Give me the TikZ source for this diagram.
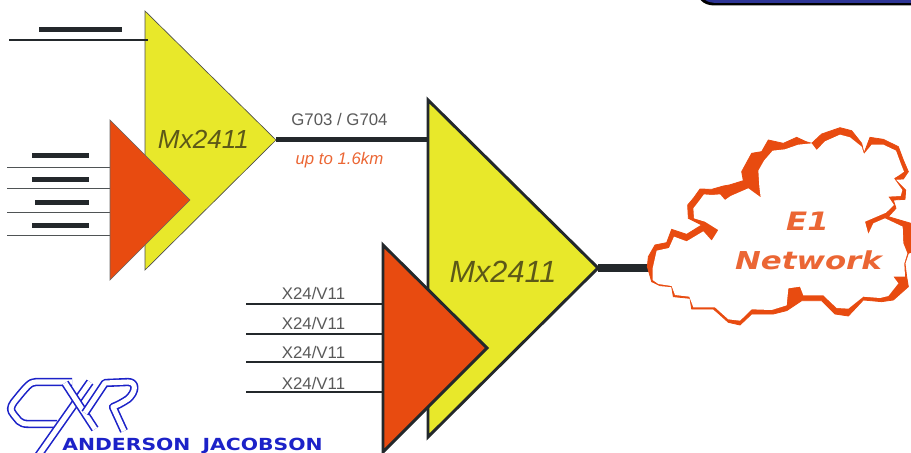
\documentclass[tikz,border=0pt]{standalone}
\usepackage{fontspec}
\setmainfont{Liberation Sans}
\newfontfamily\logofont{DejaVu Sans}
\definecolor{muxyellow}{HTML}{E8E82A}
\definecolor{muxorange}{HTML}{E84B10}
\definecolor{wiredark}{HTML}{23282B}
\definecolor{muxtext}{HTML}{5C5818}
\definecolor{cxrblue}{HTML}{1C22C8}
\definecolor{boxblue}{HTML}{2E3596}
\tikzset{
  wire/.style={draw=wiredark,line width=2.1pt},
  thinwire/.style={draw=wiredark!80,line width=0.6pt},
  lanlabel/.style={font=\fontsize{12.6}{14}\selectfont,text=black!65,inner sep=0pt},
  muxlabel/.style={text=muxtext,inner sep=0pt},
  logostroke/.style={draw=cxrblue,line width=1.2pt,double=white,double distance=3.8pt,line join=round}
}
\begin{document}
\begin{tikzpicture}[x=0.75pt,y=-0.75pt]
  \clip (0,0) rectangle (911,453);
  % Box at the top edge
  \fill[black] (695,-20) .. controls (696,-1) and (702,5) .. (714,5.5) -- (911,5.5) -- (911,-20) -- cycle;
  \fill[boxblue] (698,-20) .. controls (699,-3) and (704,2) .. (714,2.8) -- (911,2.8) -- (911,-20) -- cycle;
  % Small mux
  \filldraw[fill=muxyellow,draw=black!70,line width=0.5pt] (145,11) -- (276,140) -- (145,270) -- cycle;
  \coordinate (smallout) at (276,139.5);
  \fill[wiredark] (39,27.5) rectangle (122,32.5);
  \coordinate (topa) at (9,40);
  \coordinate (topb) at (148,40);
  \draw[wire] (topa) -- (topb);
  \foreach \y/\x in {155/32,179/32,202/35,225/32} {
    \fill[wiredark] (\x,\y-2.5) rectangle (89,\y+2.5);
  }
  \foreach \y in {167,188,212,235} {
    \coordinate (la\y) at (7,\y);
    \coordinate (lb\y) at (110,\y);
    \draw[thinwire] (la\y) -- (lb\y);
  }
  \filldraw[fill=muxorange,draw=black!60,line width=0.5pt] (110,120) -- (190,200) -- (110,280) -- cycle;
  \node[muxlabel,font=\fontsize{19.6}{22}\selectfont\itshape] (muxa) at (203.5,139.5) {Mx2411};
  % Big mux
  \filldraw[fill=muxyellow,draw=wiredark,line width=2.2pt,line join=miter] (428,100) -- (598,268) -- (428,437) -- cycle;
  \coordinate (bigin) at (428,139.5);
  \coordinate (bigout) at (598,268);
  \coordinate (cloudin) at (652,268);
  \draw[draw=wiredark,line width=3.4pt] (smallout) -- (bigin);
  \draw[draw=wiredark,line width=5.8pt] (bigout) -- (cloudin);
  \node[lanlabel] (g703) at (339.5,119.5) {G703 / G704};
  \node[inner sep=0pt,font=\fontsize{12.6}{14}\selectfont\itshape,text=muxorange!85] (reach) at (339.5,160.5) {up to 1.6km};
  \foreach \y/\l in {304/293,334/323,362/352,392/383} {
    \coordinate (xa\y) at (246,\y);
    \coordinate (xb\y) at (384,\y);
    \draw[wire] (xa\y) -- (xb\y);
    \node[lanlabel] (x\y) at (313.5,\l) {X24/V11};
  }
  \filldraw[fill=muxorange,draw=wiredark,line width=2.2pt,line join=miter] (383,245) -- (487,348) -- (383,452) -- cycle;
  \node[muxlabel,font=\fontsize{23}{26}\selectfont\itshape] (muxb) at (503,272) {Mx2411};
  % Cloud
  \begin{scope}[shift={(640,110)},x=0.25pt,y=-0.25pt]
    \filldraw[fill=muxorange,draw=muxorange,line width=0.6pt] (25,440) -- (45,405) -- (80,398) -- (95,358) -- (140,373) -- (185,345) -- (145,325) -- (143,285) -- (160,265)
      -- (180,237) -- (215,238) -- (250,228) -- (268,225) -- (310,212) -- (305,185) -- (335,130) -- (365,125) -- (385,90)
      -- (430,100) -- (470,82) -- (498,95) -- (515,100) -- (545,72) -- (600,53) -- (635,62) -- (665,100) -- (672,130)
      -- (690,82) -- (730,88) -- (775,110) -- (790,150) -- (805,185) -- (790,207) -- (765,208) -- (797,240) -- (795,268)
      -- (760,270) -- (768,295) -- (745,320) -- (813,340) -- (830,345) -- (830,420) -- (805,430) -- (795,460) -- (800,500)
      -- (805,530) -- (760,570) -- (725,575) -- (670,570) -- (625,618) -- (585,612) -- (545,572) -- (485,572) -- (440,602)
      -- (400,612) -- (335,612) -- (300,645) -- (265,637) -- (235,610) -- (220,597) -- (155,597) -- (150,565) -- (100,560)
      -- (95,530) -- (60,527) -- (35,515) -- (22,470) -- cycle;
    \fill[white] (38,475) -- (50,422) -- (87,414) -- (102,380) -- (140,394) -- (190,364) -- (215,392) -- (235,360) -- (195,335)
      -- (162,325) -- (160,295) -- (178,272) -- (192,253) -- (215,255) -- (240,253) -- (255,270) -- (272,258) -- (325,235)
      -- (362,262) -- (358,230) -- (355,182) -- (372,152) -- (398,122) -- (435,118) -- (475,104) -- (515,100) -- (530,120)
      -- (555,94) -- (600,74) -- (630,82) -- (665,110) -- (672,132) -- (695,104) -- (730,104) -- (768,122) -- (782,160)
      -- (792,185) -- (778,195) -- (762,205) -- (787,240) -- (782,258) -- (745,260) -- (762,285) -- (738,308) -- (675,335)
      -- (685,372) -- (700,340) -- (735,325) -- (788,350) -- (790,400) -- (802,430) -- (793,460) -- (795,500) -- (760,500)
      -- (775,520) -- (745,558) -- (720,564) -- (670,560) -- (625,596) -- (590,594) -- (550,556) -- (490,556) -- (480,530)
      -- (445,535) -- (440,586) -- (395,600) -- (335,598) -- (300,632) -- (265,628) -- (225,592) -- (160,592) -- (148,560)
      -- (105,555) -- (95,528) -- (55,522) -- (38,510) -- cycle;
  \end{scope}
  \node[inner sep=0pt,text=muxorange!85,font=\logofont\fontsize{19}{24}\selectfont\bfseries\itshape,xscale=1.22] (eone) at (807.5,221.5) {E1};
  \node[inner sep=0pt,text=muxorange!85,font=\logofont\fontsize{18.5}{24}\selectfont\bfseries\itshape,xscale=1.25] (network) at (808.5,260.5) {Network};
  % Logo
  \draw[logostroke] (72,382) -- (36,382) .. controls (30,382) and (27,386) .. (14,402) .. controls (10,408) and (10,410) .. (14,415) -- (19,421) .. controls (21,423) and (24,424) .. (29,424) -- (57,424);
  \draw[logostroke] (38,456) -- (90,382);
  \draw[logostroke] (65,383) -- (95,429);
  \draw[logostroke] (85,413) -- (105,383) -- (128,382) .. controls (137,382) and (136,392) .. (128,399) .. controls (122,403) and (118,405) .. (113,407) -- (124,431);
  \node[inner sep=0pt,text=cxrblue,font=\logofont\fontsize{12.5}{14}\selectfont\bfseries,xscale=1.22] (cxrname) at (192.5,446) {ANDERSON\hspace{0.6em}JACOBSON};
\end{tikzpicture}
\end{document}
